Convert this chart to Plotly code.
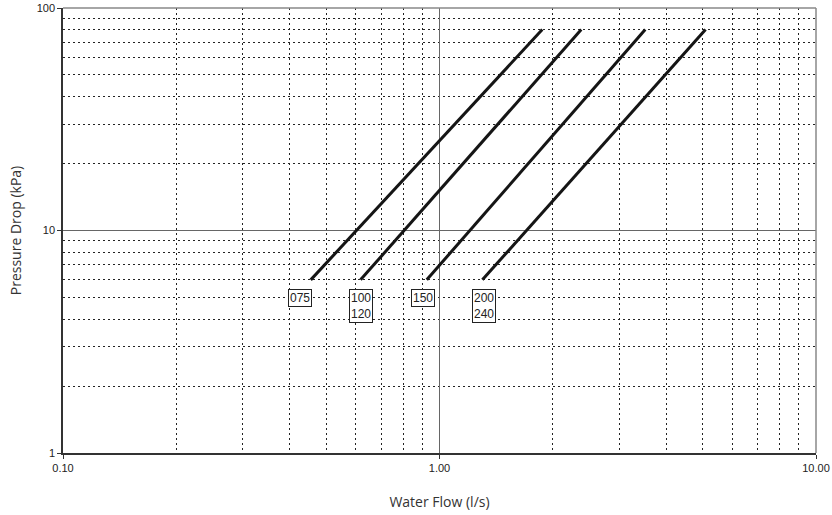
import math
import plotly.graph_objects as go

# Pressure drop curves per unit size: flow (l/s) at 6 kPa and 80 kPa
series_names = ["075", "100/120", "150", "200/240"]
flow_low = [0.455, 0.617, 0.925, 1.30]
flow_high = [1.875, 2.38, 3.52, 5.09]
dp_low = 6
dp_high = 80

# Label boxes (text, flow position, pressure position at top of box)
label_texts = ["075", "100<br>120", "150", "200<br>240"]
label_flow = [0.425, 0.62, 0.905, 1.31]
label_dp = 5.45

x_tickvals = [0.1, 1, 10]
x_ticktext = ["0.10", "1.00", "10.00"]
y_tickvals = [1, 10, 100]
y_ticktext = ["1", "10", "100"]

x_minor = [m * d for d in (0.1, 1) for m in range(2, 10)]
y_minor = [m * d for d in (1, 10) for m in range(2, 10)]

fig = go.Figure()
for name, q0, q1 in zip(series_names, flow_low, flow_high):
    fig.add_trace(go.Scatter(
        x=[q0, q1], y=[dp_low, dp_high], mode="lines", name=name,
        line=dict(color="#151515", width=3), showlegend=False,
    ))

# annotations on log axes take log10 positions
for txt, qx in zip(label_texts, label_flow):
    fig.add_annotation(
        x=math.log10(qx), y=math.log10(label_dp), xref="x", yref="y",
        text=txt, showarrow=False,
        xanchor="center", yanchor="top", align="left",
        font=dict(family="Liberation Sans, Arial", size=12, color="#222"),
        bgcolor="white", bordercolor="#222", borderwidth=1, borderpad=1,
    )

axis_common = dict(
    showline=True, linecolor="#333", linewidth=1.5,
    ticks="outside", ticklen=4, tickcolor="#333",
    showgrid=True, gridcolor="#666", gridwidth=1,
    tickfont=dict(family="Liberation Sans, Arial", size=11, color="#222"),
    zeroline=False, automargin=False,
)

fig.update_xaxes(
    type="log", range=[-1, 1], tickvals=x_tickvals, ticktext=x_ticktext,
    title=dict(text="Water Flow (l/s)", font=dict(family="Open Sans", size=14, color="#333"), standoff=24),
    minor=dict(tickvals=x_minor, showgrid=True, gridcolor="#222", griddash="2px,3px", gridwidth=1, ticks=""),
    **axis_common,
)
fig.update_yaxes(
    type="log", range=[0, 2], tickvals=y_tickvals, ticktext=y_ticktext,
    title=dict(text="Pressure Drop (kPa)", font=dict(family="Open Sans", size=14, color="#333"), standoff=12),
    minor=dict(tickvals=y_minor, showgrid=True, gridcolor="#222", griddash="2px,3px", gridwidth=1, ticks=""),
    **axis_common,
)

# Light frame on the top and right edges
fig.add_shape(type="line", xref="paper", yref="paper", x0=0, x1=1, y0=1, y1=1,
              line=dict(color="#888", width=1.5))
fig.add_shape(type="line", xref="paper", yref="paper", x0=1, x1=1, y0=0, y1=1,
              line=dict(color="#888", width=1.5))

fig.update_layout(
    width=832, height=515,
    margin=dict(l=63, r=16, t=8, b=62),
    paper_bgcolor="white", plot_bgcolor="white",
)

fig.write_html("out.html")
